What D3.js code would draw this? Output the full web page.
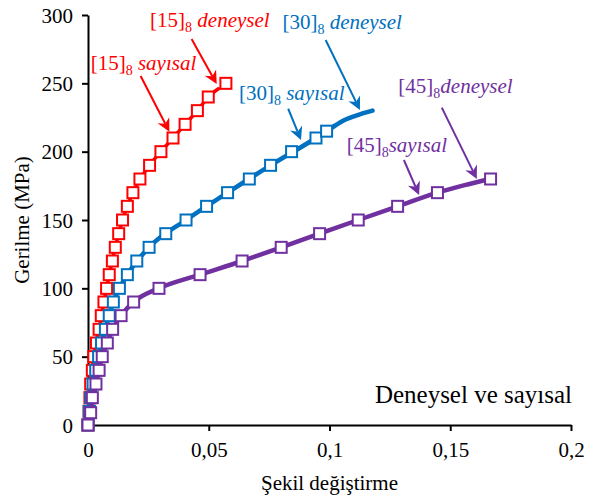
<!DOCTYPE html>
<html>
<head>
<meta charset="utf-8">
<script src="https://cdn.jsdelivr.net/npm/d3@7"></script>
<style>
  html, body { margin: 0; padding: 0; background: #fff; }
  svg { display: block; }
</style>
</head>
<body>
<svg id="chart" width="594" height="499"></svg>
<script>
// Tick values and their printed labels (Turkish decimal comma)
const xTicks = [0, 0.05, 0.1, 0.15, 0.2];
const xTickLabels = ["0", "0,05", "0,1", "0,15", "0,2"];
const yTicks = [0, 50, 100, 150, 200, 250, 300];

// Experimental points (deneysel): strain, stress in MPa
const strain15 = [0, 0.0004, 0.0008, 0.0011, 0.0018, 0.0024, 0.0035, 0.0046, 0.0055, 0.0066, 0.0077, 0.0088, 0.0101, 0.0113, 0.0127, 0.0143, 0.0163, 0.0186, 0.0215, 0.0255, 0.0302, 0.0352, 0.0402, 0.0453, 0.0498, 0.0571];
const stress15 = [0, 10, 20, 30, 40, 50, 60, 70, 80, 90, 100, 110, 120, 130, 140, 150, 160, 170, 180, 190, 200, 210, 220, 230, 240, 250];

const strain30 = [0, 0.0006, 0.0012, 0.0021, 0.0032, 0.0044, 0.0056, 0.0072, 0.0088, 0.0105, 0.0130, 0.0163, 0.0202, 0.0253, 0.0322, 0.0406, 0.0491, 0.0578, 0.0668, 0.0756, 0.0843, 0.0944, 0.0988];
const stress30 = [0, 10, 20, 30, 40, 50, 60, 70, 80, 90, 100, 110, 120, 130, 140, 150, 160, 170, 180, 190, 200, 210, 215];

const strain45 = [0, 0.0011, 0.0018, 0.0033, 0.0046, 0.0059, 0.0080, 0.0102, 0.0137, 0.0189, 0.0294, 0.0464, 0.0638, 0.0800, 0.0959, 0.1119, 0.1282, 0.1447, 0.1667];
const stress45 = [0, 9, 20, 30, 40, 50, 60, 70, 80, 90, 100, 110, 120, 130, 140, 150, 160, 170, 180];

// Numerical curves (sayısal)
const numStrain15 = [0, 0.0011, 0.0024, 0.0046, 0.0066, 0.0088, 0.0113, 0.0143, 0.0186, 0.0255, 0.0302, 0.0352, 0.0402, 0.0453, 0.0498, 0.0540];
const numStress15 = [0, 30, 50, 70, 90, 110, 130, 150, 170, 190, 200, 210, 220, 230, 240, 246];

const numStrain30 = [0, 0.0021, 0.0044, 0.0072, 0.0105, 0.0163, 0.0253, 0.0406, 0.0578, 0.0756, 0.0944, 0.1005, 0.1060, 0.1120, 0.1178];
const numStress30 = [0, 30, 50, 70, 90, 110, 130, 150, 170, 190, 210, 217, 223, 227, 230];

const numStrain45 = [0, 0.0033, 0.0059, 0.0102, 0.0137, 0.0189, 0.0294, 0.0464, 0.0638, 0.0800, 0.0959, 0.1119, 0.1282, 0.1447, 0.1560, 0.1667];
const numStress45 = [0, 30, 50, 70, 80, 90, 100, 110, 120, 130, 140, 150, 160, 170, 175.5, 180];

const seriesColors = ["#FF0000", "#0070C0", "#7030A0"];

// Callout labels and their arrows, in data units
const labelNames = ["[15]", "[15]", "[30]", "[30]", "[45]", "[45]"];
const labelKinds = [" deneysel", " sayısal", " deneysel", " sayısal", "deneysel", "sayısal"];
const labelColorIdx = [0, 0, 1, 1, 2, 2];
const labelX = [0.0257, 0.0011, 0.0805, 0.0625, 0.1285, 0.1071];
const labelY = [291.5, 259.7, 290.0, 237.8, 242.9, 200.0];
const arrowFrom = [[0.0429, 282.4], [0.0218, 255.4], [0.0984, 281.7], [0.0829, 231.4], [0.1465, 232.2], [0.1308, 193.9]];
const arrowTo = [[0.0533, 249.5], [0.0337, 214.6], [0.1126, 230.5], [0.0882, 208.5], [0.1610, 180.0], [0.1371, 168.3]];

const noteText = "Deneysel ve sayısal";
const notePos = [0.1188, 16.1];

const FONT = "'Liberation Serif', 'Times New Roman', serif";

const svg = d3.select("#chart").style("font-family", FONT);

const x = d3.scaleLinear().domain([0, 0.2]).range([88, 571]);
const y = d3.scaleLinear().domain([0, 300]).range([425, 15]);

// Axes
const xAxis = svg.append("g")
  .attr("transform", `translate(0,${y(0)})`)
  .call(d3.axisBottom(x).tickValues(xTicks).tickSize(6).tickSizeOuter(0)
    .tickFormat((d, i) => xTickLabels[i]));
const yAxis = svg.append("g")
  .attr("transform", `translate(${x(0)},0)`)
  .call(d3.axisLeft(y).tickValues(yTicks).tickSize(6).tickSizeOuter(0));

[xAxis, yAxis].forEach(g => {
  g.attr("font-family", null);
  g.select(".domain").attr("stroke", "#000").attr("stroke-width", 2);
  g.selectAll(".tick line").attr("stroke", "#000").attr("stroke-width", 2);
  g.selectAll(".tick text")
    .attr("fill", "#000")
    .style("font-family", FONT)
    .style("font-size", "21px");
});
xAxis.selectAll(".tick text").attr("dy", "0").attr("y", 32);
yAxis.selectAll(".tick text").attr("x", -15).attr("dy", "0.34em");

// Axis titles
svg.append("text")
  .attr("x", (x(0) + x(0.2)) / 2)
  .attr("y", 490)
  .attr("text-anchor", "middle")
  .style("font-family", FONT)
  .style("font-size", "21px")
  .text("Şekil değiştirme");
svg.append("text")
  .attr("transform", `translate(29,${(y(0) + y(300)) / 2}) rotate(-90)`)
  .attr("text-anchor", "middle")
  .style("font-family", FONT)
  .style("font-size", "21px")
  .text("Gerilme (MPa)");

// Curves and markers
const line = d3.line().x(d => x(d[0])).y(d => y(d[1])).curve(d3.curveMonotoneX);
const numerical = [
  [numStrain15, numStress15],
  [numStrain30, numStress30],
  [numStrain45, numStress45]
];
const experimental = [
  [strain15, stress15],
  [strain30, stress30],
  [strain45, stress45]
];
const msize = 11;

numerical.forEach((s, k) => {
  const pts = s[0].map((v, i) => [v, s[1][i]]);
  svg.append("path")
    .datum(pts)
    .attr("d", line)
    .attr("fill", "none")
    .attr("stroke", seriesColors[k])
    .attr("stroke-width", k === 0 ? 3.5 : 4.5)
    .attr("stroke-linejoin", "round")
    .attr("stroke-linecap", "round");

  const e = experimental[k];
  const mpts = e[0].map((v, i) => [v, e[1][i]]);
  svg.append("g").selectAll("rect")
    .data(mpts)
    .join("rect")
    .attr("x", d => x(d[0]) - msize / 2)
    .attr("y", d => y(d[1]) - msize / 2)
    .attr("width", msize)
    .attr("height", msize)
    .attr("fill", "#fff")
    .attr("stroke", seriesColors[k])
    .attr("stroke-width", 2);
});

// Callouts
labelNames.forEach((name, i) => {
  const c = seriesColors[labelColorIdx[i]];
  const t = svg.append("text")
    .attr("x", x(labelX[i]))
    .attr("y", y(labelY[i]))
    .attr("fill", c)
    .style("font-family", FONT)
    .style("font-size", "21px");
  t.append("tspan").text(name);
  t.append("tspan").attr("dy", 5).style("font-size", "14px").text("8");
  t.append("tspan").attr("dy", -5).style("font-style", "italic").text(labelKinds[i]);

  const x1 = x(arrowFrom[i][0]), y1 = y(arrowFrom[i][1]);
  const x2 = x(arrowTo[i][0]), y2 = y(arrowTo[i][1]);
  const ang = Math.atan2(y2 - y1, x2 - x1);
  const headLen = 13, headW = 6.5, notch = 4;
  const bx = x2 - headLen * Math.cos(ang), by = y2 - headLen * Math.sin(ang);
  const nx = x2 - (headLen - notch) * Math.cos(ang), ny = y2 - (headLen - notch) * Math.sin(ang);
  svg.append("line")
    .attr("x1", x1).attr("y1", y1)
    .attr("x2", nx).attr("y2", ny)
    .attr("stroke", c).attr("stroke-width", 2);
  const px = -Math.sin(ang), py = Math.cos(ang);
  svg.append("path")
    .attr("d", `M${x2},${y2} L${bx + px * headW},${by + py * headW} L${nx},${ny} L${bx - px * headW},${by - py * headW} Z`)
    .attr("fill", c);
});

svg.append("text")
  .attr("x", x(notePos[0]))
  .attr("y", y(notePos[1]))
  .style("font-family", FONT)
  .style("font-size", "25px")
  .attr("fill", "#000")
  .text(noteText);
</script>
</body>
</html>
